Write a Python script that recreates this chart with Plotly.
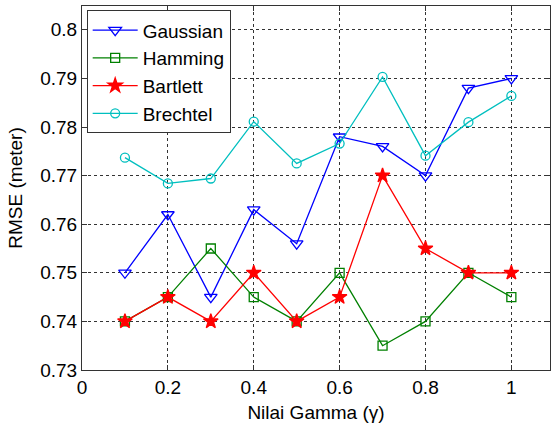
import plotly.graph_objects as go

gamma = [0.1, 0.2, 0.3, 0.4, 0.5, 0.6, 0.7, 0.8, 0.9, 1.0]
gaussian = [0.750, 0.762, 0.745, 0.763, 0.756, 0.778, 0.776, 0.770, 0.788, 0.790]
hamming = [0.740, 0.745, 0.755, 0.745, 0.740, 0.750, 0.735, 0.740, 0.750, 0.745]
bartlett = [0.740, 0.745, 0.740, 0.750, 0.740, 0.745, 0.770, 0.755, 0.750, 0.750]
brechtel = [0.7737, 0.7684, 0.7694, 0.7811, 0.7725, 0.7766, 0.7903, 0.7741, 0.7810, 0.7864]

xticks = [0, 0.2, 0.4, 0.6, 0.8, 1]
yticks = [0.73, 0.74, 0.75, 0.76, 0.77, 0.78, 0.79, 0.8]

series = [
    ("Gaussian", gaussian, "#0000ff", "triangle-down-open", 11),
    ("Hamming", hamming, "#008000", "square-open", 9),
    ("Bartlett", bartlett, "#ff0000", "star", 11),
    ("Brechtel", brechtel, "#00bfbf", "circle-open", 9),
]

fig = go.Figure()
for name, vals, color, sym, size in series:
    fig.add_trace(go.Scatter(
        x=gamma, y=vals, name=name, mode="lines+markers",
        line=dict(color=color, width=1.3),
        marker=dict(symbol=sym, size=size, color=color, line=dict(color=color, width=1.3)),
    ))

font = "Liberation Sans, Arial, sans-serif"
fig.update_layout(
    width=551, height=428,
    margin=dict(l=82, r=1, t=6, b=58),
    paper_bgcolor="white", plot_bgcolor="white",
    font=dict(family=font, size=19, color="black"),
    showlegend=True,
    legend=dict(
        x=0.01, y=0.988, xanchor="left", yanchor="top",
        bgcolor="white", bordercolor="#333333", borderwidth=1,
        font=dict(size=19, family=font), tracegroupgap=0, itemwidth=45,
    ),
    xaxis=dict(
        range=[0, 1.09], tickvals=xticks, ticktext=[str(t) for t in xticks],
        showgrid=True, gridcolor="#333333", griddash="dot", gridwidth=1,
        showline=True, linecolor="#333333", linewidth=1, mirror="ticks",
        ticks="inside", ticklen=5, tickcolor="#333333",
        zeroline=False, automargin=False,
        title=dict(text="Nilai Gamma (γ)", font=dict(size=19), standoff=8),
        tickfont=dict(size=19),
    ),
    yaxis=dict(
        range=[0.73, 0.8049], tickvals=yticks, ticktext=[f"{t:g}" for t in yticks],
        showgrid=True, gridcolor="#333333", griddash="dot", gridwidth=1,
        showline=True, linecolor="#333333", linewidth=1, mirror="ticks",
        ticks="inside", ticklen=5, tickcolor="#333333",
        zeroline=False, automargin=False,
        title=dict(text="RMSE (meter)", font=dict(size=19), standoff=12),
        tickfont=dict(size=19),
    ),
)

fig.write_html(
    "out.html",
    config={"displayModeBar": False},
    post_script="document.body.style.margin='0';document.body.style.padding='0';",
)
